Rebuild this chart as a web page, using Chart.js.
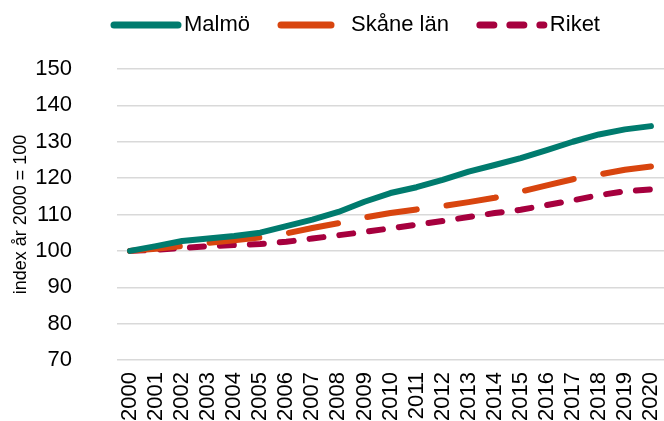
<!DOCTYPE html>
<html>
<head>
<meta charset="utf-8">
<script src="https://cdn.jsdelivr.net/npm/chart.js@4"></script>
<style>
  body { margin: 0; background: #fff; }
  #wrap { width: 664px; height: 421px; }
</style>
</head>
<body>
<div id="wrap"><canvas id="lineChart"></canvas></div>
<script>
// DATA
const years = ['2000','2001','2002','2003','2004','2005','2006','2007','2008','2009','2010',
               '2011','2012','2013','2014','2015','2016','2017','2018','2019','2020'];
const malmo = [100, 101.3, 102.7, 103.4, 104.1, 105.0, 106.8, 108.6, 110.7, 113.5, 115.9,
               117.5, 119.5, 121.8, 123.6, 125.5, 127.7, 130.0, 132.0, 133.4, 134.3];
const skane = [100, 100.6, 101.3, 102.2, 102.9, 103.7, 104.8, 106.3, 107.6, 109.2, 110.4,
               111.4, 112.3, 113.4, 114.6, 116.3, 118.0, 119.7, 121.0, 122.3, 123.2];
const riket = [100, 100.3, 100.8, 101.3, 101.6, 101.9, 102.5, 103.4, 104.3, 105.2, 106.2,
               107.2, 108.2, 109.3, 110.4, 111.3, 112.6, 113.9, 115.3, 116.4, 116.9];
const yTicks = [70, 80, 90, 100, 110, 120, 130, 140, 150];

const FONT = '"Liberation Sans", Arial, sans-serif';
Chart.defaults.font.family = FONT;
Chart.defaults.color = '#000';

// legend drawn by hand so the line samples keep their dash pattern
const lineLegend = {
  id: 'lineLegend',
  afterDraw: function(chart) {
    var ctx = chart.ctx;
    var x = 114;
    var y = 25;
    var sample = 64;
    ctx.save();
    ctx.font = '22px ' + FONT;
    ctx.textBaseline = 'middle';
    chart.data.datasets.forEach(function(ds) {
      ctx.beginPath();
      ctx.strokeStyle = ds.borderColor;
      ctx.lineWidth = 7;
      ctx.lineCap = 'round';
      ctx.setLineDash(ds.borderDash || []);
      ctx.moveTo(x, y);
      ctx.lineTo(x + sample, y);
      ctx.stroke();
      ctx.setLineDash([]);
      ctx.fillStyle = '#000';
      ctx.fillText(ds.label, x + sample + 6, y);
      x += sample + 6 + ctx.measureText(ds.label).width + 31;
    });
    ctx.restore();
  }
};

const line_data = {
  labels: years,
  datasets: [
    {
      label: 'Malmö',
      data: malmo,
      borderColor: '#007b6e',
      backgroundColor: '#007b6e',
      borderWidth: 6,
      borderCapStyle: 'round',
      borderJoinStyle: 'round',
      pointRadius: 0,
      tension: 0
    },
    {
      label: 'Skåne län',
      data: skane,
      borderColor: '#d8450f',
      backgroundColor: '#d8450f',
      borderWidth: 6,
      borderDash: [50, 30],
      borderCapStyle: 'round',
      borderJoinStyle: 'round',
      pointRadius: 0,
      tension: 0
    },
    {
      label: 'Riket',
      data: riket,
      borderColor: '#a6003e',
      backgroundColor: '#a6003e',
      borderWidth: 6,
      borderDash: [14, 16],
      borderCapStyle: 'round',
      borderJoinStyle: 'round',
      pointRadius: 0,
      tension: 0
    }
  ]
};

const line_config = {
  type: 'line',
  data: line_data,
  plugins: [lineLegend],
  options: {
    responsive: true,
    maintainAspectRatio: false,
    animation: false,
    layout: { padding: { top: 69, left: 0, right: 0, bottom: 0 } },
    plugins: {
      tooltip: { enabled: false },
      legend: { display: false }
    },
    scales: {
      x: {
        offset: true,
        afterFit: function(axis) {
          axis.height = 61;
          axis.paddingLeft = 0;
          axis.paddingRight = 0;
        },
        grid: { display: false, drawTicks: false },
        border: { display: false },
        ticks: {
          minRotation: 90,
          maxRotation: 90,
          autoSkip: false,
          padding: 12,
          font: { size: 22 }
        }
      },
      y: {
        min: 70,
        max: 150,
        afterBuildTicks: function(axis) {
          axis.ticks = yTicks.map(function(v) { return { value: v }; });
        },
        afterFit: function(axis) {
          axis.width = 117;
          axis.paddingTop = 0;
          axis.paddingBottom = 0;
        },
        grid: { color: '#d9d9d9', lineWidth: 1.5, drawTicks: false },
        border: { display: false },
        ticks: { padding: 45, font: { size: 22 } },
        title: {
          display: true,
          text: 'index år 2000 = 100',
          font: { size: 18 },
          padding: { top: 10, bottom: 0 }
        }
      }
    }
  }
};

var lineChart = new Chart(document.getElementById('lineChart'), line_config);
</script>
</body>
</html>
